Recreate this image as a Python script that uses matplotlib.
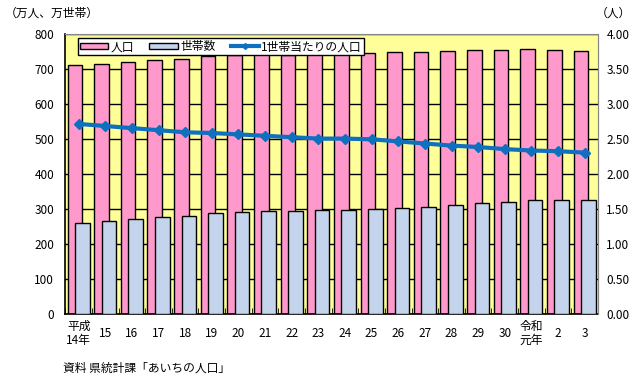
import matplotlib
matplotlib.use("Agg")
import matplotlib.pyplot as plt
import numpy as np

plt.rcParams['font.family'] = ['Noto Sans CJK JP', 'DejaVu Sans']

# 年次
years = ["平成\n14年", "15", "16", "17", "18", "19", "20", "21", "22", "23",
         "24", "25", "26", "27", "28", "29", "30", "令和\n元年", "2", "3"]
# 人口（万人）
population = [711, 714, 721, 726, 729, 737, 742, 744, 742, 743,
              744, 746, 749, 749, 751, 754, 754, 757, 754, 751]
# 世帯数（万世帯）
households = [262, 266, 271, 277, 280, 289, 291, 294, 294, 297,
              297, 300, 303, 307, 311, 317, 320, 326, 326, 326]
# 1世帯当たりの人口（人）
per_household = [2.72, 2.69, 2.66, 2.63, 2.60, 2.59, 2.57, 2.55, 2.53, 2.51,
                 2.51, 2.50, 2.47, 2.44, 2.41, 2.39, 2.36, 2.34, 2.33, 2.31]

x = np.arange(len(years))

fig = plt.figure(figsize=(6.41, 3.79), dpi=100)
ax = fig.add_axes([0.1019, 0.1707, 0.831, 0.7388])
ax.set_facecolor("#FFFF99")

w = 0.55
ax.bar(x - 0.14, population, w, color="#FF99CC", edgecolor="black", linewidth=1.0,
       label="人口", zorder=2)
ax.bar(x + 0.14, households, w, color="#C4D4EC", edgecolor="black", linewidth=1.0,
       label="世帯数", zorder=3)

ax.set_xlim(-0.5, len(years) - 0.5)
ax.set_ylim(0, 800)
ax.set_yticks(range(0, 801, 100))
ax.yaxis.grid(True, color="black", linewidth=1.0, zorder=1)
ax.set_axisbelow(True)
ax.set_xticks(x)
ax.set_xticklabels(years, fontsize=8.5, linespacing=1.1)
for lab in ax.get_xticklabels():
    lab.set_va("center")
ax.tick_params(axis="x", length=0, pad=13.5)
ax.set_xticks(np.arange(-0.5, len(years), 1), minor=True)
ax.tick_params(axis="x", which="minor", direction="in", length=4, color="black")
ax.tick_params(axis="y", length=0, labelsize=8.5, pad=8)

for s in ["left", "bottom"]:
    ax.spines[s].set_color("black")
    ax.spines[s].set_linewidth(1.2)
ax.spines["top"].set_color("#888888")
ax.spines["top"].set_linestyle((0, (1, 1)))
ax.spines["right"].set_color("#888888")

ax2 = ax.twinx()
ax2.plot(x, per_household, color="#1070C0", linewidth=3, marker="D", markersize=5,
         label="1世帯当たりの人口", zorder=5)
ax2.set_ylim(0, 4)
ax2.set_yticks(np.arange(0, 4.01, 0.5))
ax2.set_yticklabels([f"{v:.2f}" for v in np.arange(0, 4.01, 0.5)])
ax2.tick_params(axis="y", length=0, labelsize=8.5, pad=6)
for s in ["left", "bottom", "top"]:
    ax2.spines[s].set_visible(False)
ax2.spines["right"].set_color("#888888")

h1, l1 = ax.get_legend_handles_labels()
h2, l2 = ax2.get_legend_handles_labels()
leg = ax2.legend(h1 + h2, l1 + l2, ncol=3, loc="upper left",
                 bbox_to_anchor=(0.024, 0.985), fontsize=8.5, frameon=True,
                 fancybox=False, edgecolor="black", framealpha=1,
                 handlelength=2.4, handleheight=0.5, columnspacing=1.3,
                 borderpad=0.15, handletextpad=0.2, borderaxespad=0.0)
leg.get_frame().set_linewidth(1.0)
for hl in leg.get_lines():
    hl.set_markersize(3)

fig.text(0.008, 0.965, "（万人、万世帯）", fontsize=8.5, va="center", ha="left")
fig.text(0.985, 0.965, "（人）", fontsize=8.5, va="center", ha="right")
fig.text(0.098, 0.03, "資料 県統計課「あいちの人口」", fontsize=8.5, va="center", ha="left")

fig.savefig("out.png", dpi=100)
